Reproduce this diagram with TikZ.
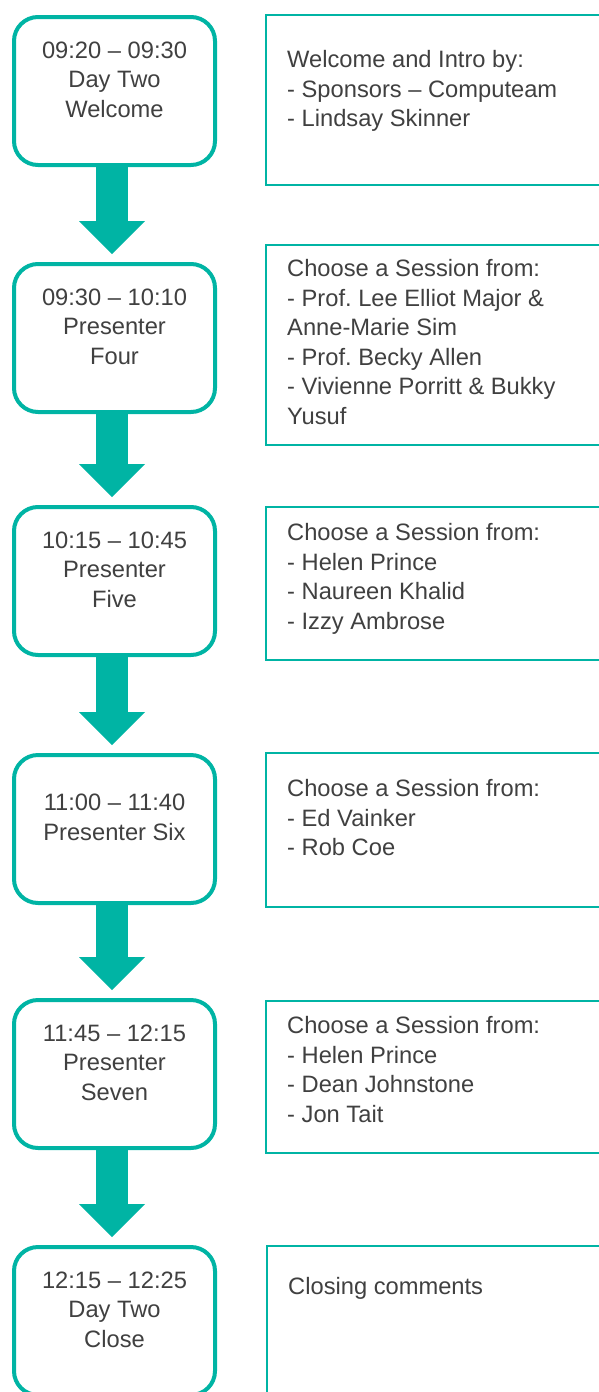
\documentclass[tikz,border=0pt]{standalone}
\usepackage{fontspec}
\setmainfont{Liberation Sans}
\usetikzlibrary{arrows.meta}
\definecolor{flowteal}{RGB}{0,180,164}
\definecolor{flowtext}{RGB}{64,64,64}
\frenchspacing
\tikzstyle{timebox} = [
  draw=flowteal,
  line width=4pt,
  rounded corners=24pt,
  fill=white,
  minimum width=201pt,
  minimum height=148pt,
  inner sep=0pt,
]
\tikzstyle{sessionbox} = [
  draw=flowteal,
  line width=2pt,
  fill=white,
  anchor=north west,
  minimum width=360pt,
  inner sep=0pt,
]
\tikzstyle{flowlabel} = [
  text=flowtext,
  inner sep=0pt,
  font=\fontsize{23.7pt}{29.5pt}\selectfont,
]

\begin{document}
\begin{tikzpicture}[
      x=1pt, y=-1pt,
      timetext/.style={flowlabel, align=center},
      sessiontext/.style={flowlabel, align=left, anchor=north west},
      flowarrow/.style={
        draw=flowteal,
        line width=32pt,
        -{Triangle[width=66pt,length=33pt,line width=0pt]},
        shorten >=8pt
      }
    ]
      \useasboundingbox (0,0) rectangle (598,1392);

      % Time slots
      \node[timebox] (t1) at (114.5,91) {};
      \node[timebox] (t2) at (114.5,338) {};
      \node[timebox] (t3) at (114.5,581) {};
      \node[timebox] (t4) at (114.5,829) {};
      \node[timebox] (t5) at (114.5,1074) {};
      \node[timebox] (t6) at (114.5,1321) {};

      \node[timetext] (t1text) at ([yshift=11.5pt]t1.center) {09:20 – 09:30\\Day Two\\Welcome};
      \node[timetext] (t2text) at ([yshift=11.5pt]t2.center) {09:30 – 10:10\\Presenter\\Four};
      \node[timetext] (t3text) at ([yshift=11.5pt]t3.center) {10:15 – 10:45\\Presenter\\Five};
      \node[timetext] (t4text) at ([yshift=11.5pt]t4.center) {11:00 – 11:40\\Presenter Six};
      \node[timetext] (t5text) at ([yshift=11.5pt]t5.center) {11:45 – 12:15\\Presenter\\Seven};
      \node[timetext] (t6text) at ([yshift=11.5pt]t6.center) {12:15 – 12:25\\Day Two\\Close};

      % Arrows
      \draw[flowarrow] ([xshift=-2.5pt]t1.south) -- ([xshift=-2.5pt]t2.north);
      \draw[flowarrow] ([xshift=-2.5pt]t2.south) -- ([xshift=-2.5pt]t3.north);
      \draw[flowarrow] ([xshift=-2.5pt]t3.south) -- ([xshift=-2.5pt]t4.north);
      \draw[flowarrow] ([xshift=-2.5pt]t4.south) -- ([xshift=-2.5pt]t5.north);
      \draw[flowarrow] ([xshift=-2.5pt]t5.south) -- ([xshift=-2.5pt]t6.north);

      % Sessions
      \node[sessionbox, minimum height=170pt] (s1) at (265,14) {};
      \node[sessionbox, minimum height=200pt] (s2) at (265,244) {};
      \node[sessionbox, minimum height=153pt] (s3) at (265,506) {};
      \node[sessionbox, minimum height=154pt] (s4) at (265,752) {};
      \node[sessionbox, minimum height=152pt] (s5) at (265,1000) {};
      \node[sessionbox, minimum height=160pt] (s6) at (266,1245) {};

      \node[sessiontext] (s1text) at ([shift={(22pt,-36.6pt)}]s1.north west)
        {Welcome and Intro by:\\- Sponsors – Computeam\\- Lindsay Skinner};
      \node[sessiontext] (s2text) at ([shift={(22pt,-15.6pt)}]s2.north west)
        {Choose a Session from:\\- Prof. Lee Elliot Major \&\\Anne-Marie Sim\\- Prof. Becky Allen\\- Vivienne Porritt \& Bukky\\Yusuf};
      \node[sessiontext] (s3text) at ([shift={(22pt,-17.6pt)}]s3.north west)
        {Choose a Session from:\\- Helen Prince\\- Naureen Khalid\\- Izzy Ambrose};
      \node[sessiontext] (s4text) at ([shift={(22pt,-27.6pt)}]s4.north west)
        {Choose a Session from:\\- Ed Vainker\\- Rob Coe};
      \node[sessiontext] (s5text) at ([shift={(22pt,-16.6pt)}]s5.north west)
        {Choose a Session from:\\- Helen Prince\\- Dean Johnstone\\- Jon Tait};
      \node[sessiontext] (s6text) at ([shift={(22pt,-32.6pt)}]s6.north west)
        {Closing comments};
    \end{tikzpicture}
\end{document}
